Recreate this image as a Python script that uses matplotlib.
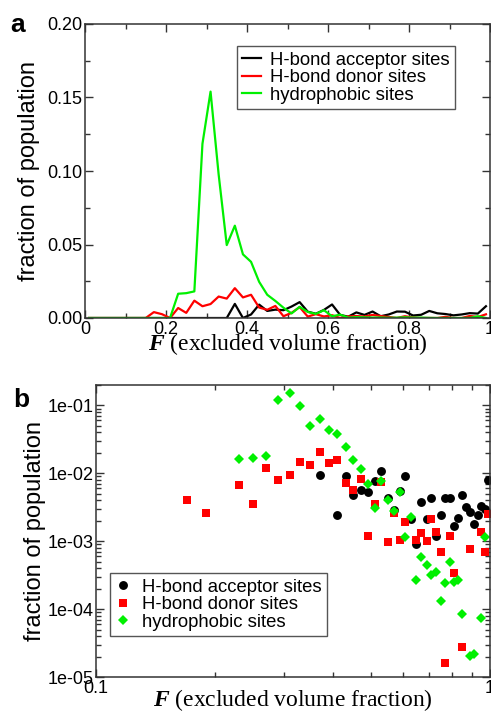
import matplotlib
matplotlib.use('Agg')
import matplotlib.pyplot as plt
import numpy as np
from matplotlib.ticker import MultipleLocator, FixedLocator, FuncFormatter, LogLocator, NullFormatter

plt.rcParams['font.family'] = 'Liberation Sans'
plt.rcParams['mathtext.fontset'] = 'custom'
plt.rcParams['mathtext.it'] = 'Liberation Serif:style=italic:weight=bold'
plt.rcParams['mathtext.rm'] = 'Liberation Serif'

# bin centres of excluded volume fraction F
F = np.arange(0.01, 1.0, 0.02)

acceptor = [0, 0, 0, 0, 0, 0, 0, 0, 0, 0,
            0, 0, 0, 0, 0, 0, 0, 0, 0.0096, 0,
            0.0024, 0.0091, 0.0048, 0.0057, 0.0053, 0.0078, 0.0108, 0.0043, 0.0029, 0.0055,
            0.0092, 0.0021, 0.0009, 0.0038, 0.0021, 0.0044, 0.0012, 0.0024, 0.0044, 0.0043,
            0.0017, 0.0022, 0.0048, 0.0032, 0.0027, 0.0018, 0.0024, 0.0033, 0.0030, 0.0080]

donor = [0, 0, 0, 0, 0, 0, 0, 0, 0.0040, 0.0026,
         0, 0.0068, 0.0035, 0.0118, 0.0080, 0.0095, 0.0146, 0.0132, 0.0203, 0.0140,
         0.0158, 0.0071, 0.0056, 0.0082, 0.0012, 0.0035, 0.0074, 0.00096, 0.0026, 0.00105,
         0.0019, 0, 0.00106, 0.00133, 0.0010, 0.0021, 0.00135, 0.00069, 0.000016, 0.0012,
         0.00034, 0, 0.000028, 0, 0.00077, 0, 0, 0.00138, 0.0007, 0.0025]

hydrophobic = [0, 0, 0, 0, 0, 0, 0, 0, 0, 0,
               0, 0.0165, 0.0169, 0.0181, 0.1185, 0.154, 0.0976, 0.0496, 0.0628, 0.0433,
               0.0382, 0.0246, 0.0158, 0.0116, 0.0070, 0.0031, 0.0076, 0.0041, 0.0028, 0.0053,
               0.00116, 0.0023, 0.00027, 0.00058, 0.00045, 0.00032, 0.00035, 0.00013, 0.00024, 0.0005,
               0.00025, 0.00027, 0.000086, 0, 0.0000205, 0.000022, 0, 0.000074, 0.00116, 0]

labels = ['H-bond acceptor sites', 'H-bond donor sites', 'hydrophobic sites']
colors = ['black', '#ff0000', '#00f000']
markers = ['o', 's', 'D']
msizes = [6.4, 5.8, 5.4]
series = [acceptor, donor, hydrophobic]

fig = plt.figure(figsize=(4.91, 7.19), dpi=100)
ax1 = fig.add_axes([85/491, 1-318/719, 405/491, 294/719])
ax2 = fig.add_axes([96/491, 1-677/719, 394/491, 292/719])

# panel a : linear histogram
for y, c, lab in zip(series, colors, labels):
    ax1.plot(F, y, color=c, lw=1.6, label=lab)
ax1.set_xlim(0, 1)
ax1.set_ylim(0, 0.2)
ax1.xaxis.set_major_locator(MultipleLocator(0.2))
ax1.xaxis.set_minor_locator(MultipleLocator(0.1))
ax1.yaxis.set_major_locator(MultipleLocator(0.05))
ax1.yaxis.set_minor_locator(MultipleLocator(0.025))
ax1.xaxis.set_major_formatter(FuncFormatter(lambda v, p: '%g' % round(v, 2)))
ax1.yaxis.set_major_formatter(FuncFormatter(lambda v, p: '%.2f' % v))
leg1 = ax1.legend(loc='upper left', bbox_to_anchor=(0.375, 0.925), borderaxespad=0,
                  fontsize=13.3, handlelength=1.0, handletextpad=0.5, labelspacing=0.03,
                  fancybox=False, framealpha=1, edgecolor='#555555', borderpad=0.3)
leg1.get_frame().set_linewidth(1.0)

# panel b : log-log scatter
for y, c, m, ms, lab in zip(series, colors, markers, msizes, labels):
    y = np.array(y)
    keep = y > 0
    ax2.plot(F[keep], y[keep], linestyle='none', marker=m, ms=ms, color=c,
             markeredgewidth=0, label=lab)
ax2.set_xscale('log')
ax2.set_yscale('log')
ax2.set_xlim(0.1, 1)
ax2.set_ylim(1e-5, 0.2)
ax2.xaxis.set_major_locator(FixedLocator([0.1, 1]))
ax2.xaxis.set_minor_locator(LogLocator(base=10, subs=np.arange(2, 10)))
ax2.xaxis.set_minor_formatter(NullFormatter())
ax2.xaxis.set_major_formatter(FuncFormatter(lambda v, p: '%g' % v))
ax2.yaxis.set_major_locator(FixedLocator([1e-5, 1e-4, 1e-3, 1e-2, 1e-1]))
ax2.yaxis.set_minor_locator(LogLocator(base=10, subs=np.arange(2, 10)))
ax2.yaxis.set_minor_formatter(NullFormatter())
ax2.yaxis.set_major_formatter(FuncFormatter(lambda v, p: '1e-%02d' % round(-np.log10(v))))
leg2 = ax2.legend(loc='upper left', bbox_to_anchor=(0.036, 0.356), borderaxespad=0,
                  fontsize=13.3, handlelength=0.8, handletextpad=0.6, labelspacing=0.03,
                  fancybox=False, framealpha=1, edgecolor='#555555', borderpad=0.3)
leg2.get_frame().set_linewidth(1.0)

for ax in (ax1, ax2):
    ax.tick_params(which='both', direction='in', top=True, right=True, labelsize=13,
                   width=1.0, color='#333333')
    ax.tick_params(which='major', length=6, pad=2)
    ax.tick_params(which='minor', length=3.5)
    for s in ax.spines.values():
        s.set_linewidth(1.1)
        s.set_color('#333333')
    ax.set_ylabel('fraction of population', fontsize=17)
    ax.set_xlabel(r'$F$ (excluded volume fraction)', fontsize=17,
                  family='Liberation Serif', labelpad=-7)

ax1.xaxis.labelpad = -5
ax1.yaxis.labelpad = 5
ax2.yaxis.labelpad = 1

fig.text(10/491, 1-32/719, 'a', fontsize=19, weight='bold', va='baseline')
fig.text(13/491, 1-407/719, 'b', fontsize=19, weight='bold', va='baseline')

fig.savefig('out.png', dpi=100)
